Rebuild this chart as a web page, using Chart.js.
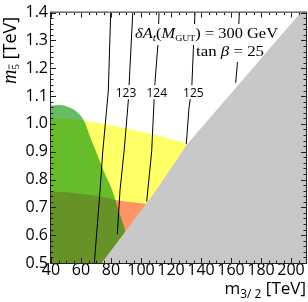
<!DOCTYPE html>
<html>
<head>
<meta charset="utf-8">
<script src="https://cdn.jsdelivr.net/npm/chart.js@4"></script>
<style>
  html, body { margin: 0; padding: 0; background: #fff; }
  canvas { display: block; }
</style>
</head>
<body>
<canvas id="myChart" width="308" height="302"></canvas>
<script>
const canvas = document.getElementById('myChart');
const ctx = canvas.getContext('2d');

const SANS = '"Open Sans", sans-serif';
const SERIF = '"Liberation Serif", "DejaVu Serif", serif';

// axes
const xTicks = [40, 60, 80, 100, 120, 140, 160, 180, 200];
const yTicks = [0.5, 0.6, 0.7, 0.8, 0.9, 1.0, 1.1, 1.2, 1.3, 1.4];

// region boundaries (m_3/2 in TeV, m_5bar in TeV)
const yellowX = [40, 55, 70, 85, 100, 110, 120, 131, 150];
const yellowY = [1.02, 1.017, 1.005, 0.99, 0.972, 0.96, 0.945, 0.928, 0.9];
const orangeX = [40, 55, 70, 85, 100, 115];
const orangeY = [0.757, 0.752, 0.742, 0.725, 0.715, 0.705];
const greenX = [40, 46, 52.7, 57.1, 61.5, 67.1, 71.5, 76, 80.5, 85, 89.3, 95];
const greenY = [1.065, 1.068, 1.058, 1.044, 1.017, 0.939, 0.88, 0.82, 0.765, 0.69, 0.62, 0.5];
const grayX = [73.8, 108.7, 130.9, 206.5, 210];
const grayY = [0.5, 0.751, 0.9275, 1.4, 1.4];

// higgs mass contours
const contour1X = [79.8, 78.2, 74.5, 72.7, 68.9];
const contour1Y = [1.4, 1.118, 0.9, 0.761, 0.5];
const contour2X = [94.5, 91.5, 88.7, 86, 84.2];
const contour2Y = [1.4, 1.08, 0.9, 0.761, 0.603];
const contour3X = [112, 111.3, 109.3, 107.1, 103.8];
const contour3Y = [1.4, 1.285, 1.148, 0.9, 0.721];
const contour4X = [136, 134.9, 133.8, 132, 130.2];
const contour4Y = [1.4, 1.267, 1.124, 1.058, 0.928];
const contour5X = [165.5, 164.2, 163.1];
const contour5Y = [1.4, 1.213, 1.148];

const contourLabels = ['123', '124', '125'];
const contourLabelX = [90, 110.5, 134.9];
const contourLabelY = [1.114, 1.114, 1.114];

function pts(xs, ys) {
    return xs.map((x, i) => ({x: x, y: ys[i]}));
}

function region(xs, ys, color, order, smooth) {
    return {
        data: pts(xs, ys),
        fill: 'start',
        backgroundColor: color,
        borderColor: 'rgba(0,0,0,0)',
        borderWidth: 0,
        pointRadius: 0,
        cubicInterpolationMode: smooth ? 'monotone' : 'default',
        order: order
    };
}

function contour(xs, ys) {
    return {
        data: pts(xs, ys),
        fill: false,
        borderColor: '#000',
        borderWidth: 1,
        pointRadius: 0,
        order: 2
    };
}

function runWidth(parts) {
    let w = 0;
    parts.forEach(p => {
        ctx.font = p.f;
        w += ctx.measureText(p.t).width;
    });
    return w;
}

function drawRun(parts, x, y) {
    parts.forEach(p => {
        ctx.font = p.f;
        ctx.fillText(p.t, x, y + (p.dy || 0));
        let w = ctx.measureText(p.t).width;
        if (p.bar) {
            ctx.beginPath();
            ctx.lineWidth = 0.8;
            ctx.moveTo(x + 0.5, y + p.dy - 10);
            ctx.lineTo(x + w - 0.5, y + p.dy - 10);
            ctx.stroke();
        }
        x += w;
    });
}

// draw a run squeezed to a given width
function drawFit(parts, x0, x1, y) {
    let w = runWidth(parts);
    ctx.save();
    ctx.translate(x0, y);
    ctx.scale((x1 - x0) / w, 1);
    drawRun(parts, 0, 0);
    ctx.restore();
}

const overlay = {
    id: 'overlay',
    afterDatasetDraw(chart, args) {
        // white boxes behind the text, before the gray region is painted
        if (args.index !== 1) return;
        const xs = chart.scales.x, ys = chart.scales.y;
        ctx.save();
        ctx.fillStyle = '#fff';
        ctx.font = '12px ' + SANS;
        contourLabels.forEach((t, i) => {
            let px = xs.getPixelForValue(contourLabelX[i]);
            let py = ys.getPixelForValue(contourLabelY[i]);
            let w = ctx.measureText(t).width;
            ctx.fillRect(px - w / 2 - 2, py - 7, w + 4, 14);
        });
        ctx.fillRect(134, 24, 146, 21);
        ctx.fillRect(195, 45, 71, 17);
        ctx.restore();
    },
    afterDatasetsDraw(chart) {
        const xs = chart.scales.x, ys = chart.scales.y;
        const a = chart.chartArea;
        ctx.save();
        ctx.fillStyle = '#000';
        ctx.strokeStyle = '#000';

        // contour labels
        ctx.font = '12px ' + SANS;
        ctx.textAlign = 'center';
        ctx.textBaseline = 'middle';
        contourLabels.forEach((t, i) => {
            ctx.fillText(t, xs.getPixelForValue(contourLabelX[i]), ys.getPixelForValue(contourLabelY[i]) + 1);
        });

        ctx.textAlign = 'left';
        ctx.textBaseline = 'alphabetic';
        drawFit([
            {t: 'δA', f: 'italic 15px ' + SERIF},
            {t: 't', f: 'italic 11px ' + SERIF, dy: 3},
            {t: '(', f: '15px ' + SERIF},
            {t: 'M', f: 'italic 15px ' + SERIF},
            {t: 'GUT', f: '9px ' + SERIF, dy: 3},
            {t: ') = 300 GeV', f: '15px ' + SERIF}
        ], 135, 278, 38);
        drawFit([
            {t: 'tan ', f: '15px ' + SERIF},
            {t: 'β', f: 'italic 15px ' + SERIF},
            {t: ' = 25', f: '15px ' + SERIF}
        ], 196, 264, 56);

        // frame with inward ticks
        ctx.strokeStyle = '#222';
        ctx.lineWidth = 1;
        ctx.strokeRect(a.left - 0.5, a.top - 0.5, a.right - a.left + 1, a.bottom - a.top + 1);
        ctx.beginPath();
        for (let v = 40; v <= 210; v += 5) {
            let len = xTicks.includes(v) ? 5 : 2.5;
            let px = Math.round(xs.getPixelForValue(v)) + 0.5;
            ctx.moveTo(px, a.bottom);
            ctx.lineTo(px, a.bottom - len);
            ctx.moveTo(px, a.top);
            ctx.lineTo(px, a.top + len);
        }
        for (let k = 25; k <= 70; k++) {
            let v = k / 50;
            let len = k % 5 === 0 ? 5 : 2.5;
            let py = Math.round(ys.getPixelForValue(v)) + 0.5;
            ctx.moveTo(a.left, py);
            ctx.lineTo(a.left + len, py);
            ctx.moveTo(a.right, py);
            ctx.lineTo(a.right - len, py);
        }
        ctx.stroke();

        // x title
        ctx.fillStyle = '#000';
        ctx.strokeStyle = '#000';
        const xt = [
            {t: 'm', f: '17px ' + SANS},
            {t: '3/ 2', f: '12px ' + SANS, dy: 4},
            {t: ' [TeV]', f: '17px ' + SANS}
        ];
        drawRun(xt, 306 - runWidth(xt), 294);

        // y title, rotated
        ctx.translate(16, 84);
        ctx.rotate(-Math.PI / 2);
        drawRun([
            {t: 'm', f: 'italic 20px ' + SERIF},
            {t: '5', f: '11px ' + SERIF, dy: 3, bar: true},
            {t: ' [TeV]', f: '18px ' + SANS}
        ], 0, 0);
        ctx.restore();
    }
};

const chart = new Chart(ctx, {
    type: 'line',
    data: {
        datasets: [
            region(grayX, grayY, '#c8c8c8', 1, false),
            contour(contour1X, contour1Y),
            contour(contour2X, contour2Y),
            contour(contour3X, contour3Y),
            contour(contour4X, contour4Y),
            contour(contour5X, contour5Y),
            region(greenX, greenY, 'rgba(0,145,0,0.6)', 3, true),
            region(orangeX, orangeY, '#ff9464', 4, true),
            region(yellowX, yellowY, '#ffff66', 5, true)
        ]
    },
    options: {
        responsive: false,
        animation: false,
        devicePixelRatio: 1,
        layout: {padding: {top: 11, right: 2, left: 0, bottom: 0}},
        plugins: {
            legend: {display: false},
            tooltip: {enabled: false}
        },
        scales: {
            x: {
                type: 'linear',
                min: 40,
                max: 210,
                grid: {display: false, drawTicks: false},
                border: {display: false},
                afterBuildTicks: s => { s.ticks = xTicks.map(v => ({value: v})); },
                afterFit: s => { s.height = 39; },
                ticks: {
                    font: {family: SANS, size: 16},
                    color: '#000',
                    padding: -2,
                    maxRotation: 0,
                    autoSkip: false,
                    callback: v => String(v)
                }
            },
            y: {
                min: 0.5,
                max: 1.4,
                grid: {display: false, drawTicks: false},
                border: {display: false},
                afterBuildTicks: s => { s.ticks = yTicks.map(v => ({value: v})); },
                afterFit: s => { s.width = 51; },
                ticks: {
                    font: {family: SANS, size: 16},
                    color: '#000',
                    padding: 3,
                    autoSkip: false,
                    callback: v => v.toFixed(1)
                }
            }
        }
    },
    plugins: [overlay]
});
</script>
</body>
</html>
